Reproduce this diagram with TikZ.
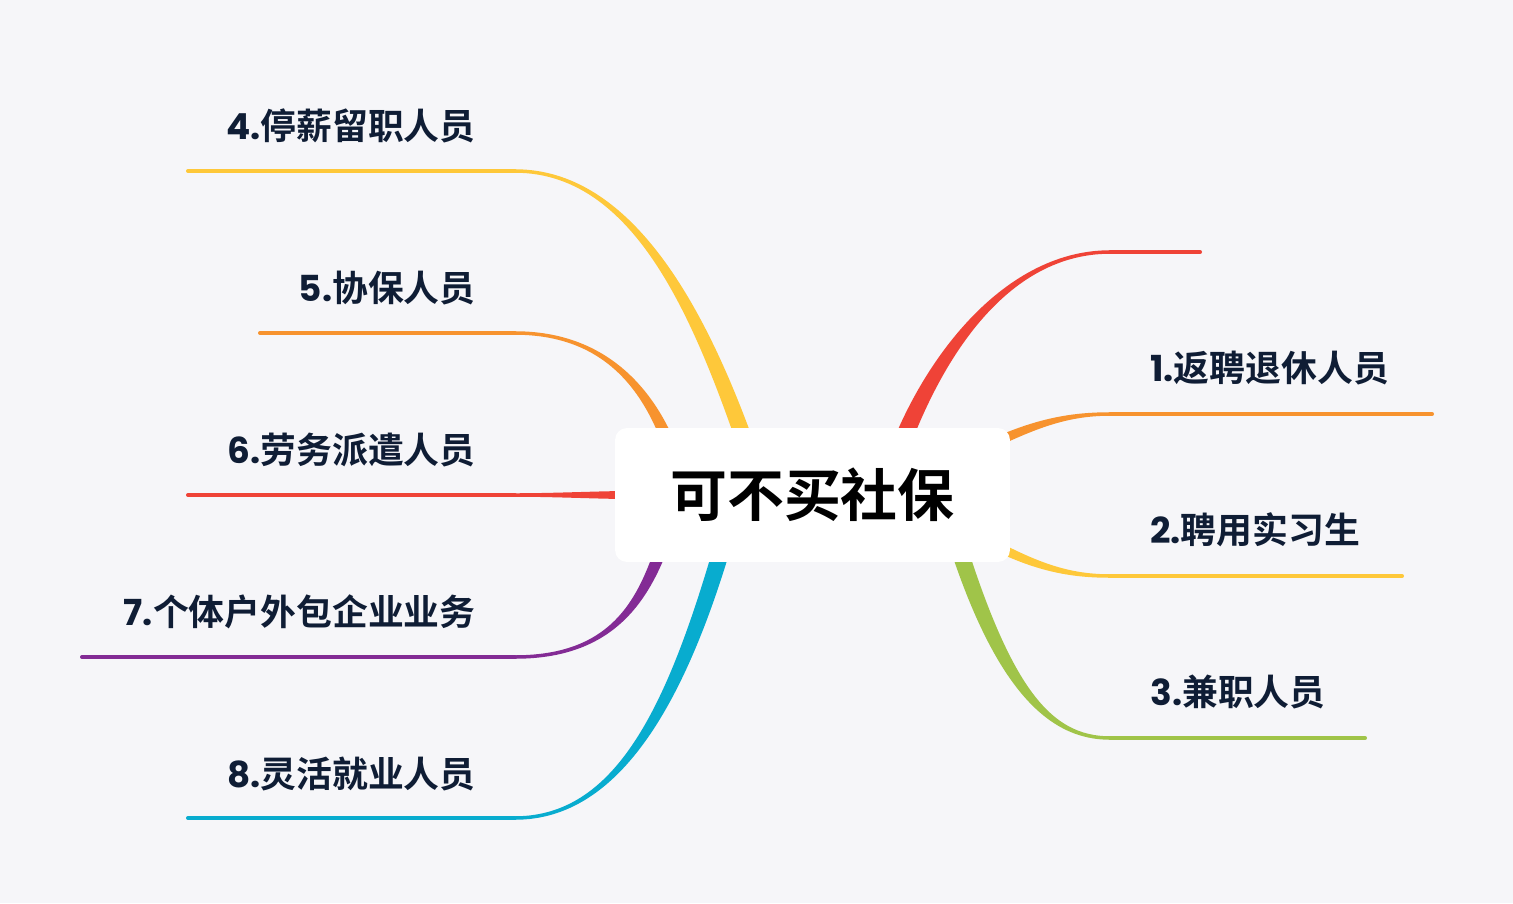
\documentclass[tikz,border=0pt]{standalone}
\usepackage{fontspec}
\usetikzlibrary{calc}
\newfontfamily\cjk{Noto Sans CJK SC}[BoldFont={Noto Sans CJK SC Bold}]
\newfontfamily\latn{Poppins}

\definecolor{bgc}{HTML}{F6F6F9}
\definecolor{ink}{HTML}{0F1D35}
\definecolor{cyel}{HTML}{FEC83A}
\definecolor{cora}{HTML}{F7932F}
\definecolor{cred}{HTML}{EF4337}
\definecolor{cpur}{HTML}{832B95}
\definecolor{ccya}{HTML}{08ACCF}
\definecolor{cgrn}{HTML}{A0C449}

\tikzset{
  root/.style={fill=white,rounded corners=0.24cm,minimum width=7.9cm,
    minimum height=2.68cm,inner sep=0pt,
    font=\cjk\bfseries\fontsize{32.4}{34}\selectfont},
  lbl/.style={inner sep=0pt,text=ink,font=\cjk\bfseries\fontsize{20.4}{24}\selectfont},
  leaf/.style={draw=#1,line width=0.08cm,line cap=round},
}
\def\wend{0.035cm}
% tapered branch: colour, start half width, start, control 1, control 2, end
\newcommand\branch[6]{%
  \coordinate (sa) at ($(#3)!#2!90:(#4)$);
  \coordinate (sb) at ($(#3)!#2!-90:(#4)$);
  \coordinate (ea) at ($(#6)!\wend!-90:(#5)$);
  \coordinate (eb) at ($(#6)!\wend!90:(#5)$);
  \fill[#1] (sa) .. controls ($(#4)+(sa)-(#3)$) and ($(#5)+(ea)-(#6)$) .. (ea)
    -- (eb) .. controls ($(#5)+(eb)-(#6)$) and ($(#4)+(sb)-(#3)$) .. (sb) -- cycle;}

\begin{document}
\begin{tikzpicture}[x=0.02cm,y=-0.02cm]
  \fill[bgc] (0,0) rectangle (1513,903);
  \useasboundingbox (0,0) rectangle (1513,903);
  % --- joints where the branches turn into flat lines ---
  \coordinate (j4) at (515,171);  \coordinate (e4) at (188,171);
  \coordinate (j5) at (515,333);  \coordinate (e5) at (260,333);
  \coordinate (j6) at (515,495);  \coordinate (e6) at (188,495);
  \coordinate (j7) at (515,657);  \coordinate (e7) at (82,657);
  \coordinate (j8) at (515,818);  \coordinate (e8) at (188,818);
  \coordinate (j0) at (1110,252); \coordinate (e0) at (1200,252);
  \coordinate (j1) at (1110,414); \coordinate (e1) at (1432,414);
  \coordinate (j2) at (1110,576); \coordinate (e2) at (1402,576);
  \coordinate (j3) at (1110,738); \coordinate (e3) at (1365,738);
  % --- left side ---
  \branch{cyel}{0.17cm}{758,480}{708,330}{640,171}{j4}
  \branch{cora}{0.13cm}{678,470}{660,410}{620,333}{j5}
  \branch{cred}{0.085cm}{650,495}{600,495}{560,495}{j6}
  \branch{cpur}{0.13cm}{671,520}{650,585}{625,657}{j7}
  \branch{ccya}{0.17cm}{730,520}{680,700}{620,818}{j8}
  % --- right side ---
  \branch{cred}{0.18cm}{892,470}{925,370}{1000,252}{j0}
  \branch{cora}{0.1cm}{975,452}{1030,425}{1065,414}{j1}
  \branch{cyel}{0.1cm}{975,535}{1030,565}{1065,576}{j2}
  \branch{cgrn}{0.17cm}{950,520}{1001,690}{1050,738}{j3}
  \foreach \i/\c in {4/cyel,5/cora,6/cred,7/cpur,8/ccya,0/cred,1/cora,2/cyel,3/cgrn}
    \draw[leaf=\c] (j\i) -- (e\i);
  % --- centre ---
  \node[root] (root) at (812.5,495) {可不买社保};
  % --- labels ---
  \node[lbl,anchor=east] (l4) at (476,126) {{\latn\bfseries 4.}停薪留职人员};
  \node[lbl,anchor=east] (l5) at (476,288) {{\latn\bfseries 5.}协保人员};
  \node[lbl,anchor=east] (l6) at (476,450) {{\latn\bfseries 6.}劳务派遣人员};
  \node[lbl,anchor=east] (l7) at (476,612) {{\latn\bfseries 7.}个体户外包企业业务};
  \node[lbl,anchor=east] (l8) at (476,774) {{\latn\bfseries 8.}灵活就业人员};
  \node[lbl,anchor=west] (l1) at (1150,368) {{\latn\bfseries 1.}返聘退休人员};
  \node[lbl,anchor=west] (l2) at (1150,530) {{\latn\bfseries 2.}聘用实习生};
  \node[lbl,anchor=west] (l3) at (1150,692) {{\latn\bfseries 3.}兼职人员};
\end{tikzpicture}
\end{document}
